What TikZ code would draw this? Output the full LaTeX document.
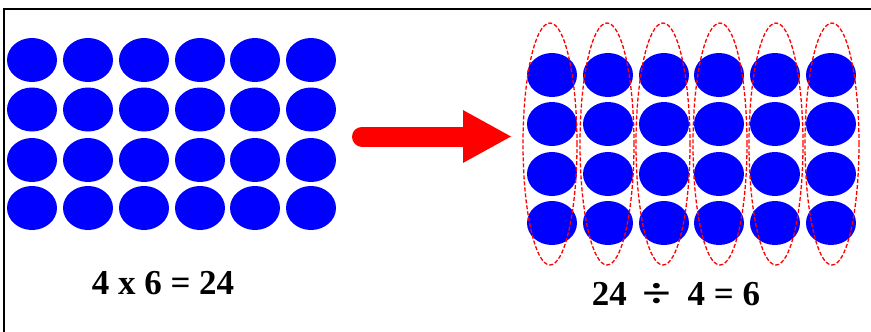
\documentclass[tikz,border=0pt]{standalone}
\usepackage{fontspec}
\setmainfont{Liberation Serif}
\usetikzlibrary{shapes.geometric,arrows.meta}

\tikzset{
  ball/.style={ellipse, fill=blue, minimum width=50pt, minimum height=44pt, inner sep=0pt},
  group/.style={ellipse, draw=red, dash pattern=on 4pt off 2pt, line width=1.3pt, minimum width=54pt, minimum height=242pt, inner sep=0pt},
  sum/.style={font=\fontsize{35}{40}\selectfont\bfseries}
}

\begin{document}
\begin{tikzpicture}[x=1pt,y=-1pt]
    \useasboundingbox (0,0) rectangle (871,332);
    \draw[line width=2pt] (4,340) -- (4,9) -- (880,9);

    % 4 rows of 6
    \foreach \c/\x in {1/32,2/88,3/144,4/200,5/255,6/311}
    \foreach \r/\y in {1/60,2/109.5,3/160,4/208}
    \node[ball] (l-\r-\c) at (\x,\y) {};
    \node[sum] (mult) at (163,283) {4 x 6 = 24};

    % arrow
    \coordinate (from) at (362,136.5);
    \coordinate (to) at (512,136.5);
    \draw[red, line width=20pt, line cap=round, -{Triangle[length=49pt,width=49pt]}] (from) -- (to);

    % 6 groups of 4
    \foreach \c/\x in {1/552,2/608,3/664,4/719,5/775,6/831}
    \foreach \r/\y in {1/75,2/124,3/174,4/223}
    \node[ball] (r-\r-\c) at (\x,\y) {};

    \foreach \c/\x in {1/550,2/607,3/663,4/720,5/776,6/832}
    \node[group] (g-\c) at (\x,144) {};
    \node[sum] (div) at (676,295) {24\hspace{16pt}\raisebox{-2pt}{\scalebox{1.5}[1.2]{÷}}\hspace{16pt}4 = 6};
  \end{tikzpicture}
\end{document}
